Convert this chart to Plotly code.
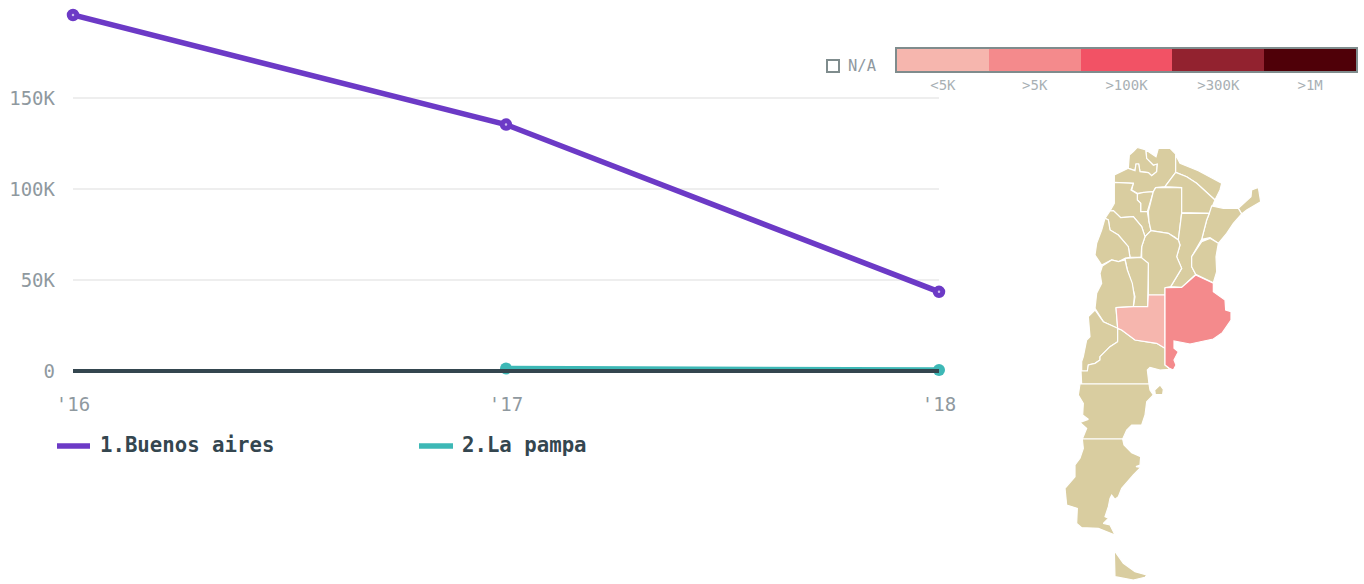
import plotly.graph_objects as go

W, H = 1364, 584
MONO = "DejaVu Sans Mono"
years = [2016, 2017, 2018]
year_labels = ["'16", "'17", "'18"]
series_names = ["1.Buenos aires", "2.La pampa"]
buenos_aires_values = [195600, 135400, 43500]
la_pampa_years = [2017, 2018]
la_pampa_values = [1400, 500]
other_values = [0, 0, 0]
y_ticks = [0, 50000, 100000, 150000]
y_tick_labels = ["0", "50K", "100K", "150K"]
bin_labels = ["<5K", ">5K", ">100K", ">300K", ">1M"]
bin_colors = ["#f6b6ae", "#f48a8c", "#f25265", "#92222f", "#4f0008"]
TAN = "#d9cda0"
PURPLE, TEAL, DARK = "#6c3ac6", "#3db8b6", "#34464f"

# province outlines in map units
jujuy = [(238,45),(250,35),(262,22),(275,27),(288,30),(290,55),(310,75),(322,72),(320,95),(305,107),(295,98),(270,95),(266,72),(258,72),(255,92),(235,85)]
salta = [(288,30),(300,38),(318,50),(325,25),(360,25),(377,42),(377,97),(345,140),(317,143),(310,155),(280,157),(262,160),(245,150),(250,130),(193,127),(193,105),(235,85),(255,92),(258,72),(266,72),(270,95),(295,98),(305,107),(320,95),(322,72),(310,75),(290,55)]
tucuman = [(262,162),(280,157),(310,155),(302,185),(292,215),(272,215),(272,190),(262,180)]
catamarca = [(193,127),(250,130),(243,150),(262,162),(262,180),(272,190),(272,215),(292,215),(297,245),(303,272),(285,290),(275,260),(250,230),(212,233),(190,212),(180,213),(193,190)]
santiago = [(317,143),(395,143),(395,218),(385,300),(375,292),(355,280),(303,272),(297,245),(295,215),(302,185),(310,155)]
formosa = [(377,45),(390,70),(445,92),(480,112),(515,130),(510,150),(495,180),(440,130),(410,110),(377,97)]
chaco = [(377,97),(410,110),(440,130),(495,180),(478,220),(395,218),(395,143),(345,140)]
misiones = [(565,205),(590,180),(603,170),(605,150),(625,142),(632,185),(605,200),(590,210),(575,222)]
corrientes = [(478,220),(485,198),(520,205),(565,205),(575,222),(550,250),(530,280),(505,310),(480,293),(455,298),(470,240)]
santa_fe = [(395,220),(478,220),(470,240),(455,298),(425,350),(425,380),(437,403),(395,442),(362,440),(395,385),(380,350),(390,315),(385,300)]
entre_rios = [(455,305),(480,295),(505,310),(498,350),(500,395),(490,428),(437,403),(425,380),(425,350)]
cordoba = [(285,290),(303,272),(355,280),(385,300),(390,315),(380,350),(395,385),(362,440),(345,443),(345,465),(295,465),(295,370),(275,355),(275,320)]
la_rioja = [(165,235),(180,213),(190,212),(212,233),(250,230),(275,260),(285,290),(275,320),(273,352),(240,352),(235,320),(205,285),(180,270),(175,240)]
san_juan = [(165,235),(175,240),(180,270),(205,285),(235,320),(240,352),(225,355),(205,365),(185,360),(160,372),(155,375),(135,345),(140,310),(155,270)]
san_luis = [(225,355),(273,352),(295,370),(295,465),(293,500),(250,500),(255,470),(245,430),(232,390)]
mendoza = [(157,378),(185,360),(205,365),(225,360),(232,390),(247,430),(253,470),(250,500),(198,503),(203,565),(160,545),(135,505),(140,460),(155,430),(150,400)]
la_pampa = [(198,503),(250,500),(293,500),(295,465),(345,465),(345,625),(320,610),(255,600),(215,570),(203,565)]
buenos_aires = [(345,443),(395,442),(437,405),(490,430),(490,455),(525,480),(527,510),(543,515),(543,540),(525,565),(517,578),(490,597),(455,605),(420,612),(372,603),(372,625),(385,635),(372,660),(378,675),(370,690),(358,685),(345,675)]
neuquen = [(135,510),(160,545),(203,565),(203,605),(180,620),(150,650),(150,660),(135,670),(115,675),(112,693),(95,693),(95,665),(100,650),(110,600),(120,590),(115,530)]
rio_negro = [(203,605),(203,565),(215,570),(255,600),(320,610),(345,625),(345,675),(360,688),(330,690),(300,682),(292,690),(297,732),(95,732),(93,693),(112,693),(115,675),(135,670),(150,660),(150,650),(180,620)]
chubut = [(90,732),(297,732),(300,750),(310,765),(290,785),(285,825),(275,855),(245,855),(230,870),(218,897),(97,897),(110,865),(90,847),(115,838),(98,825),(100,790),(85,765)]
valdes = [(314,750),(330,735),(340,748),(338,763),(316,764)]
santa_cruz = [(97,897),(218,897),(222,915),(245,938),(272,950),(270,975),(258,980),(272,982),(250,1005),(215,1045),(205,1070),(195,1078),(185,1065),(180,1075),(175,1100),(165,1130),(175,1135),(160,1150),(180,1155),(195,1185),(145,1165),(95,1163),(80,1150),(82,1105),(50,1095),(45,1045),(75,1010),(75,975),(90,955),(100,925)]
tierra_del_fuego = [(193,1232),(220,1270),(255,1295),(290,1305),(285,1312),(250,1320),(195,1310)]

provinces = [
    ("Jujuy", jujuy, TAN), ("Salta", salta, TAN), ("Tucumán", tucuman, TAN),
    ("Catamarca", catamarca, TAN), ("Santiago del Estero", santiago, TAN),
    ("Formosa", formosa, TAN), ("Chaco", chaco, TAN), ("Misiones", misiones, TAN),
    ("Corrientes", corrientes, TAN), ("Santa Fe", santa_fe, TAN), ("Entre Ríos", entre_rios, TAN),
    ("Córdoba", cordoba, TAN), ("La Rioja", la_rioja, TAN), ("San Juan", san_juan, TAN),
    ("San Luis", san_luis, TAN), ("Mendoza", mendoza, TAN), ("Neuquén", neuquen, TAN),
    ("Río Negro", rio_negro, TAN), ("Chubut", chubut, TAN), ("Chubut", valdes, TAN),
    ("Santa Cruz", santa_cruz, TAN), ("Tierra del Fuego", tierra_del_fuego, TAN),
    ("La Pampa", la_pampa, bin_colors[0]), ("Buenos Aires", buenos_aires, bin_colors[1]),
]

def dx(a, b): return [a / W, b / W]
def dy(top, bottom): return [1 - bottom / H, 1 - top / H]

fig = go.Figure()

fig.add_trace(go.Scatter(x=years, y=buenos_aires_values, mode="lines", name=series_names[0],
    line=dict(color=PURPLE, width=5.5)))
fig.add_trace(go.Scatter(x=la_pampa_years, y=la_pampa_values, mode="lines", name=series_names[1],
    line=dict(color=TEAL, width=5.5)))
fig.add_trace(go.Scatter(x=years, y=buenos_aires_values, mode="markers", cliponaxis=False,
    marker=dict(size=7.5, color="#cdbdee", line=dict(color=PURPLE, width=5))))
fig.add_trace(go.Scatter(x=la_pampa_years, y=la_pampa_values, mode="markers", cliponaxis=False,
    marker=dict(size=12, color=TEAL)))
fig.add_trace(go.Scatter(x=years, y=other_values, mode="lines", line=dict(color=DARK, width=4)))

fig.add_trace(go.Heatmap(z=[list(range(len(bin_labels)))], x=bin_labels, y=[""], xaxis="x2", yaxis="y2",
    showscale=False, hoverinfo="skip", zmin=0, zmax=len(bin_labels) - 1,
    colorscale=[[i / (len(bin_colors) - 1), c] for i, c in enumerate(bin_colors)]))

for name, pts, col in provinces:
    fig.add_trace(go.Scatter(x=[p[0] for p in pts] + [pts[0][0]], y=[p[1] for p in pts] + [pts[0][1]],
        xaxis="x3", yaxis="y3", mode="lines", fill="toself", fillcolor=col, name=name,
        line=dict(color="white", width=1.2), hoverinfo="text", text=name))

legend_keys = [(57, 90, PURPLE), (419, 453, TEAL)]
legend_text_x = [98, 460]
key_shapes = [dict(type="line", xref="paper", yref="paper", x0=a / W, x1=b / W, y0=1 - 446 / H, y1=1 - 446 / H,
                   line=dict(color=c, width=5.5)) for a, b, c in legend_keys]
key_notes = [dict(text=f"<b>{t}</b>", xref="paper", yref="paper", x=x / W, y=1 - 445 / H, xanchor="left",
                  yanchor="middle", showarrow=False, font=dict(family=MONO, size=20.7, color=DARK))
             for t, x in zip(series_names, legend_text_x)]

fig.update_layout(
    width=W, height=H, autosize=False, margin=dict(l=0, r=0, t=0, b=0, autoexpand=False),
    paper_bgcolor="white", plot_bgcolor="rgba(0,0,0,0)",
    font=dict(family=MONO, color="#8f999f", size=19),
    showlegend=False,
    xaxis=dict(domain=dx(73, 939), range=[2016, 2018], tickvals=years, ticktext=year_labels, automargin=False,
        showgrid=False, zeroline=False, showline=False, ticks="", tickfont=dict(size=19, color="#8f999f"),
        anchor="y", ticklabelstandoff=0, fixedrange=True),
    yaxis=dict(domain=dy(7, 391), range=[-11000, 200000], tickvals=y_ticks, ticktext=y_tick_labels, automargin=False,
        showgrid=True, gridcolor="#eeeeee", gridwidth=2, zeroline=False, showline=False, ticks="",
        tickfont=dict(size=19, color="#8f999f"), ticklabelstandoff=17, fixedrange=True),
    xaxis2=dict(domain=dx(897, 1356), anchor="y2", ticks="", showgrid=False, zeroline=False, automargin=False,
        showline=True, linecolor="#7f8c8d", linewidth=2, mirror=True,
        tickfont=dict(size=14, color="#a8b0b4"), fixedrange=True),
    yaxis2=dict(domain=dy(49, 71), anchor="x2", showticklabels=False, ticks="", showgrid=False, zeroline=False,
        automargin=False, showline=True, linecolor="#7f8c8d", linewidth=2, mirror=True, fixedrange=True),
    xaxis3=dict(domain=dx(1050, 1270), range=[0, 660], anchor="y3", visible=False, fixedrange=True, automargin=False),
    yaxis3=dict(domain=dy(140, 584), range=[1332, 0], anchor="x3", visible=False, fixedrange=True, automargin=False),
    shapes=[dict(type="rect", xref="paper", yref="paper", x0=827 / W, x1=839 / W,
                 y0=1 - 72 / H, y1=1 - 60 / H, line=dict(color="#7f8c8d", width=2), fillcolor="white")] + key_shapes,
    annotations=[dict(text="N/A", xref="paper", yref="paper", x=846 / W, y=1 - 66 / H, xanchor="left",
                      yanchor="middle", showarrow=False, font=dict(family=MONO, size=15.5, color="#8f999f"))] + key_notes,
)

fig.write_html("out.html", config=dict(displayModeBar=False),
               post_script="document.body.style.margin='0';document.documentElement.style.overflow='hidden';")
